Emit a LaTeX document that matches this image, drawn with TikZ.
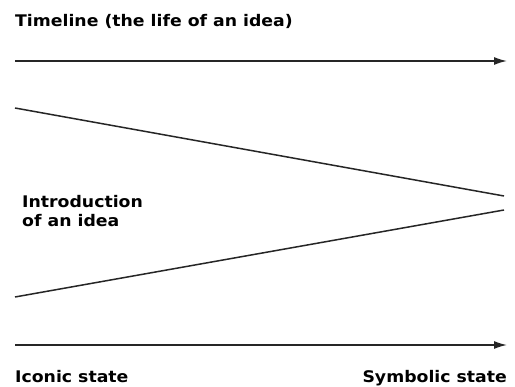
\documentclass[tikz,border=0pt]{standalone}
\usepackage{fontspec}
\setmainfont[FakeStretch=1.08]{DejaVu Sans}
\usetikzlibrary{arrows.meta}
\begin{document}
\begin{tikzpicture}[x=1pt,y=-1pt,
  lbl/.style={font=\bfseries\fontsize{16}{19}\selectfont, inner sep=0pt, align=left},
  ln/.style={line width=1.5pt, black!85},
  arr/.style={ln, -{Latex[length=13pt,width=8pt]}}]
\useasboundingbox (0,0) rectangle (515,387);
\node[lbl, anchor=base west] (title) at (15,27) {Timeline (the life of an idea)};
\coordinate (t1) at (15,61);
\coordinate (t2) at (507,61);
\draw[arr] (t1) -- (t2);
\coordinate (u1) at (15,108);
\coordinate (u2) at (504,196);
\coordinate (l1) at (15,297);
\coordinate (l2) at (504,210);
\draw[ln] (u1) -- (u2);
\draw[ln] (l1) -- (l2);
\node[lbl, anchor=base west] (intro) at (22,227) {Introduction\\of an idea};
\coordinate (b1) at (15,345);
\coordinate (b2) at (507,345);
\draw[arr] (b1) -- (b2);
\node[lbl, anchor=base west] (iconic) at (15,383) {Iconic state};
\node[lbl, anchor=base east] (symbolic) at (507,383) {Symbolic state};
\end{tikzpicture}
\end{document}
